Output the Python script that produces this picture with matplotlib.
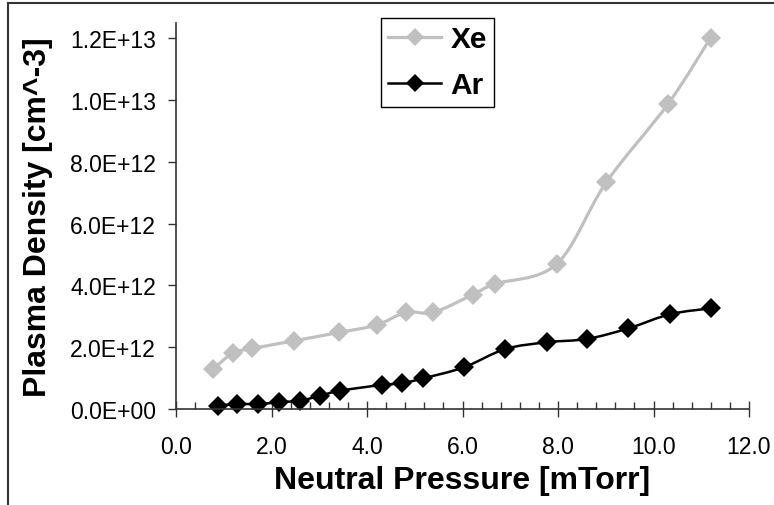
import matplotlib.pyplot as plt
import numpy as np
from matplotlib.lines import Line2D
from matplotlib.patches import PathPatch
from matplotlib.path import Path
from matplotlib.ticker import FixedLocator, MultipleLocator

plt.rcParams["font.family"] = ["Liberation Sans", "DejaVu Sans"]

# Xe data (gray)
xe_p = [0.78, 1.19, 1.60, 2.48, 3.42, 4.20, 4.82, 5.39, 6.21, 6.68, 7.97, 9.01, 10.31, 11.20]
xe_n = [1.29e12, 1.81e12, 1.96e12, 2.21e12, 2.48e12, 2.72e12, 3.13e12, 3.13e12,
        3.70e12, 4.05e12, 4.69e12, 7.34e12, 9.89e12, 1.203e13]

# Ar data (black)
ar_p = [0.87, 1.28, 1.72, 2.16, 2.60, 3.02, 3.43, 4.31, 4.73, 5.17, 6.03, 6.89,
        7.76, 8.61, 9.47, 10.35, 11.20]
ar_n = [0.11e12, 0.16e12, 0.16e12, 0.22e12, 0.27e12, 0.43e12, 0.59e12, 0.78e12,
        0.83e12, 0.99e12, 1.35e12, 1.94e12, 2.16e12, 2.27e12, 2.61e12, 3.07e12, 3.26e12]

x_ticks = [0, 2, 4, 6, 8, 10, 12]
y_ticks = [0, 2e12, 4e12, 6e12, 8e12, 1.0e13, 1.2e13]

fig = plt.figure(figsize=(7.74, 5.06), dpi=100)
ax = fig.add_axes([176 / 774, 1 - 410 / 506, 573 / 774, 386 / 506])
ax.set_xlim(0, 12)
ax.set_ylim(0, 1.25e13)


def smooth_path(x, y):
    # excel-like smoothed line: catmull-rom in screen space -> bezier
    pts = ax.transData.transform(np.column_stack([x, y]))
    verts = [pts[0]]
    codes = [Path.MOVETO]
    n = len(pts)
    for i in range(n - 1):
        p0 = pts[max(i - 1, 0)]
        p1 = pts[i]
        p2 = pts[i + 1]
        p3 = pts[min(i + 2, n - 1)]
        c1 = p1 + (p2 - p0) / 6
        c2 = p2 - (p3 - p1) / 6
        verts += [c1, c2, p2]
        codes += [Path.CURVE4] * 3
    verts = ax.transData.inverted().transform(np.array(verts))
    return Path(verts, codes)


gray = "#c0c0c0"
ax.add_patch(PathPatch(smooth_path(xe_p, xe_n), fill=False, edgecolor=gray, lw=2.3,
                       capstyle="round", joinstyle="round"))
ax.add_patch(PathPatch(smooth_path(ar_p, ar_n), fill=False, edgecolor="black", lw=1.8,
                       capstyle="round", joinstyle="round"))
ax.plot(xe_p, xe_n, ls="none", marker="D", ms=10.5, color=gray, mew=0, clip_on=False)
ax.plot(ar_p, ar_n, ls="none", marker="D", ms=10.5, color="black", mew=0, clip_on=False)

for s in ["top", "right"]:
    ax.spines[s].set_visible(False)
for s in ["left", "bottom"]:
    ax.spines[s].set_color("#333333")
    ax.spines[s].set_linewidth(1.2)

ax.xaxis.set_major_locator(FixedLocator(x_ticks))
ax.xaxis.set_minor_locator(MultipleLocator(0.4))
ax.yaxis.set_major_locator(FixedLocator(y_ticks))
ax.set_xticklabels([f"{v:.1f}" for v in x_ticks])
ax.set_yticklabels([f"{v:.1E}" for v in y_ticks])
ax.tick_params(axis="x", which="major", direction="inout", length=12, width=1,
               labelsize=16.5, pad=13, color="#333333")
ax.tick_params(axis="x", which="minor", direction="in", length=5, width=1, color="#333333")
ax.tick_params(axis="y", which="major", direction="out", length=6, width=1,
               labelsize=16.5, pad=8.5, color="#333333")

ax.set_xlabel("Neutral Pressure [mTorr]", fontsize=23, fontweight="bold", labelpad=5)
ax.set_ylabel("Plasma Density [cm^-3]", fontsize=23, fontweight="bold", labelpad=12)

handles = [
    Line2D([], [], color=gray, lw=2.3, marker="D", ms=9.5, mew=0),
    Line2D([], [], color="black", lw=1.8, marker="D", ms=9.5, mew=0),
]
leg = ax.legend(handles, ["Xe", "Ar"], loc="upper left",
                bbox_to_anchor=(381 / 774, 1 - 19 / 506), bbox_transform=fig.transFigure,
                borderaxespad=0, fancybox=False, edgecolor="black", framealpha=1,
                prop={"weight": "bold", "size": 21.5}, handlelength=1.75,
                handletextpad=0.33, labelspacing=0.6, borderpad=0.25)
leg.get_frame().set_linewidth(1.0)

# outer frame (cropped on right and bottom)
fig.add_artist(Line2D([8 / 774, 8 / 774], [0, 1 - 4 / 506], color="#333333", lw=1.5))
fig.add_artist(Line2D([8 / 774, 1], [1 - 4 / 506, 1 - 4 / 506], color="#333333", lw=1.5))

fig.savefig("out.png", dpi=100)
